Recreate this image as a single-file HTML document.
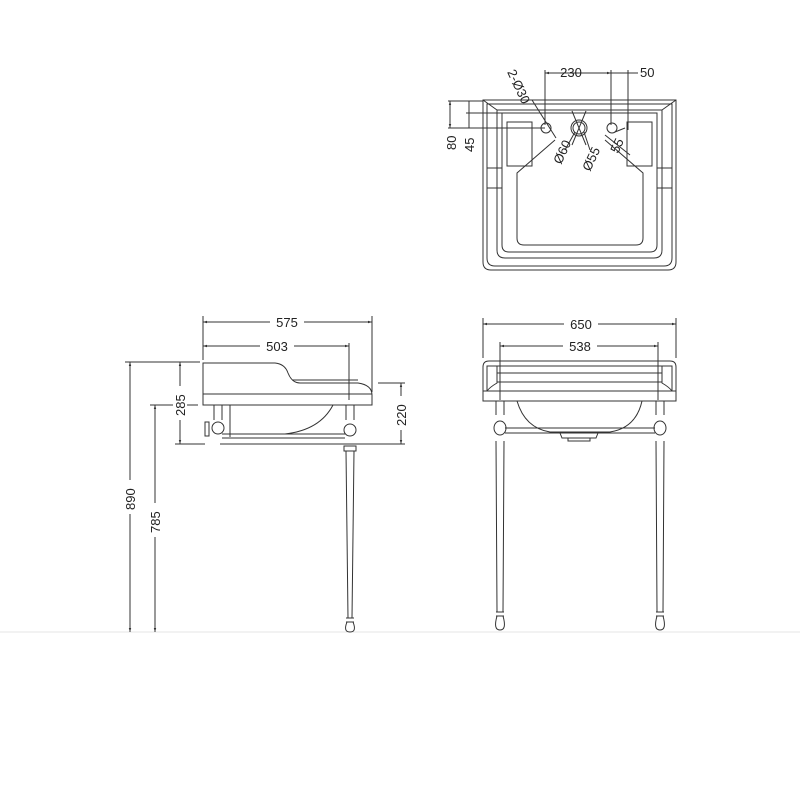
<!DOCTYPE html>
<html><head><style>html,body{margin:0;padding:0;background:#fff}svg{display:block}</style></head>
<body>
<svg width="800" height="800" viewBox="0 0 800 800" xmlns="http://www.w3.org/2000/svg" font-family="Liberation Sans, sans-serif" fill="none" stroke="#333" stroke-width="1">
<defs>
<marker id="a" viewBox="0 0 10 10" refX="10" refY="5" markerWidth="6" markerHeight="4" orient="auto-start-reverse"><path d="M0,2 L10,5 L0,8" fill="#333" stroke="none"/></marker>
</defs>
<line x1="0" y1="632" x2="800" y2="632" stroke="#e6e6e6"/>

<!-- TOP VIEW -->
<g stroke-width="1">
<path d="M483,100 L676,100 L676,262 Q676,270 668,270 L491,270 Q483,270 483,262 Z"/>
<path d="M487,104 L672,104 L672,258 Q672,266 664,266 L495,266 Q487,266 487,258 Z"/>
<path d="M497,110 L662,110 L662,250 Q662,258 654,258 L505,258 Q497,258 497,250 Z"/>
<path d="M502,113 L657,113 L657,245 Q657,252 650,252 L509,252 Q502,252 502,245 Z"/>
<line x1="483" y1="100" x2="497" y2="110"/><line x1="676" y1="100" x2="662" y2="110"/>
<rect x="507" y="122" width="25" height="44"/><rect x="627" y="122" width="25" height="44"/>
<line x1="487" y1="168" x2="502" y2="168"/><line x1="487" y1="188" x2="502" y2="188"/>
<line x1="657" y1="168" x2="672" y2="168"/><line x1="657" y1="188" x2="672" y2="188"/>
<path d="M555,140 L517,173 L517,238 Q517,245 524,245 L636,245 Q643,245 643,238 L643,173 L605,140"/>
<circle cx="546" cy="128" r="5"/><circle cx="612" cy="128" r="5"/>
<circle cx="579" cy="128" r="8"/><circle cx="579" cy="128" r="6"/>
<path d="M572,111 L586,145 M586,111 L572,145"/>
<line x1="545" y1="73" x2="611" y2="73" marker-start="url(#a)" marker-end="url(#a)"/>
<line x1="611" y1="73" x2="628" y2="73"/><line x1="628" y1="73" x2="638" y2="73"/>
<line x1="545" y1="70" x2="545" y2="125"/><line x1="611" y1="70" x2="611" y2="125"/><line x1="628" y1="70" x2="628" y2="130"/>
<line x1="448" y1="101" x2="483" y2="101"/><line x1="448" y1="128" x2="545" y2="128"/><line x1="466" y1="113" x2="575" y2="113"/>
<line x1="450" y1="101" x2="450" y2="128" marker-start="url(#a)" marker-end="url(#a)"/>
<line x1="469" y1="101" x2="469" y2="128"/>
<line x1="532" y1="100" x2="556" y2="138"/><line x1="605" y1="135" x2="630" y2="155"/><line x1="615" y1="132" x2="625" y2="128"/>
<line x1="575" y1="132" x2="565" y2="150"/><line x1="584" y1="132" x2="590" y2="150"/>
</g>
<g fill="#222" stroke="none" font-size="13">
<text x="571" y="77" text-anchor="middle">230</text>
<text x="640" y="77">50</text>
<text transform="translate(456,150) rotate(-90)">80</text>
<text transform="translate(474,152) rotate(-90)">45</text>
<text transform="translate(507,72) rotate(65)">2-Ø30</text>
<text transform="translate(561,165) rotate(-65)">Ø60</text>
<text transform="translate(590,172) rotate(-65)">Ø55</text>
<text transform="translate(618,154) rotate(-65)">55</text>
</g>

<!-- SIDE VIEW -->
<g>
<path d="M203,363 L275,363 Q285,364 288,373 Q292,383 300,383 L358,383 Q372,385 372,395 L372,405 L203,405 Z"/>
<line x1="203" y1="394" x2="372" y2="394"/><line x1="292" y1="380" x2="358" y2="380"/>
<path d="M333,405 Q320,430 285,434"/>
<line x1="230" y1="405" x2="230" y2="437"/>
<path d="M214,405 L214,420 M222,405 L222,420 M212,428 a6,6 0 1 0 12,0 a6,6 0 1 0 -12,0"/>
<rect x="205" y="422" width="4" height="14"/>
<line x1="222" y1="434" x2="345" y2="434"/><line x1="222" y1="438" x2="345" y2="438"/>
<line x1="220" y1="444" x2="372" y2="444"/>
<path d="M346,405 L346,420 M354,405 L354,420 M344,430 a6,6 0 1 0 12,0 a6,6 0 1 0 -12,0"/>
<rect x="344" y="446" width="12" height="5"/>
<path d="M346,451 L348,618 M354,451 L352,618"/>
<path d="M346,618 L354,618 M346,622 L354,622 M347,622 Q343,632 350,632 Q357,632 353,622"/>
<line x1="203" y1="322" x2="372" y2="322" marker-start="url(#a)" marker-end="url(#a)"/>
<line x1="203" y1="316" x2="203" y2="360"/><line x1="372" y1="316" x2="372" y2="392"/>
<line x1="203" y1="346" x2="349" y2="346" marker-start="url(#a)" marker-end="url(#a)"/>
<line x1="349" y1="343" x2="349" y2="400"/>
<line x1="125" y1="362" x2="200" y2="362"/><line x1="150" y1="405" x2="198" y2="405"/>
<line x1="180" y1="362" x2="180" y2="444" marker-start="url(#a)" marker-end="url(#a)"/>
<line x1="175" y1="444" x2="205" y2="444"/>
<line x1="378" y1="383" x2="405" y2="383"/><line x1="360" y1="444" x2="405" y2="444"/>
<line x1="401" y1="383" x2="401" y2="444" marker-start="url(#a)" marker-end="url(#a)"/>
<line x1="130" y1="362" x2="130" y2="632" marker-start="url(#a)" marker-end="url(#a)"/>
<line x1="155" y1="405" x2="155" y2="632" marker-start="url(#a)" marker-end="url(#a)"/>
</g>
<g fill="#222" stroke="none" font-size="13">
<rect x="270" y="315" width="34" height="14" fill="#fff"/>
<text x="287" y="327" text-anchor="middle">575</text>
<rect x="260" y="339" width="34" height="14" fill="#fff"/>
<text x="277" y="351" text-anchor="middle">503</text>
<rect x="173" y="386" width="14" height="34" fill="#fff"/>
<text transform="translate(185,416) rotate(-90)">285</text>
<rect x="394" y="396" width="14" height="34" fill="#fff"/>
<text transform="translate(406,426) rotate(-90)">220</text>
<rect x="123" y="480" width="14" height="34" fill="#fff"/>
<text transform="translate(135,510) rotate(-90)">890</text>
<rect x="148" y="503" width="14" height="34" fill="#fff"/>
<text transform="translate(160,533) rotate(-90)">785</text>
</g>

<!-- FRONT VIEW -->
<g>
<path d="M483,401 L483,367 Q483,361 489,361 L670,361 Q676,361 676,367 L676,401 Z"/>
<line x1="483" y1="391" x2="676" y2="391"/>
<path d="M487,391 L487,366 L672,366 L672,391"/>
<line x1="497" y1="373" x2="662" y2="373"/><line x1="497" y1="382" x2="662" y2="382"/>
<path d="M497,366 L497,383 Q490,387 487,391 M662,366 L662,383 Q669,387 672,391"/>
<path d="M517,401 Q525,428 550,432 L610,432 Q636,428 642,401"/>
<line x1="505" y1="428" x2="655" y2="428"/><line x1="505" y1="433" x2="655" y2="433"/>
<path d="M560,433 L562,438 L596,438 L598,433 M568,438 L568,441 L590,441 L590,438"/>
<path d="M496,401 L496,415 M504,401 L504,415 M494,428 a6,7 0 1 0 12,0 a6,7 0 1 0 -12,0"/>
<path d="M656,401 L656,415 M664,401 L664,415 M654,428 a6,7 0 1 0 12,0 a6,7 0 1 0 -12,0"/>
<path d="M496,441 L497,612 M504,441 L503,612 M656,441 L657,612 M664,441 L663,612"/>
<path d="M496,612 L504,612 M496,616 L504,616 M497,616 Q493,630 500,630 Q507,630 503,616"/>
<path d="M656,612 L664,612 M656,616 L664,616 M657,616 Q653,630 660,630 Q667,630 663,616"/>
<line x1="483" y1="324" x2="676" y2="324" marker-start="url(#a)" marker-end="url(#a)"/>
<line x1="483" y1="318" x2="483" y2="358"/><line x1="676" y1="318" x2="676" y2="358"/>
<line x1="500" y1="346" x2="658" y2="346" marker-start="url(#a)" marker-end="url(#a)"/>
<line x1="500" y1="342" x2="500" y2="400"/><line x1="658" y1="342" x2="658" y2="400"/>
</g>
<g fill="#222" stroke="none" font-size="13">
<rect x="564" y="317" width="34" height="14" fill="#fff"/>
<text x="581" y="329" text-anchor="middle">650</text>
<rect x="563" y="339" width="34" height="14" fill="#fff"/>
<text x="580" y="351" text-anchor="middle">538</text>
</g>
</svg>
</body></html>
